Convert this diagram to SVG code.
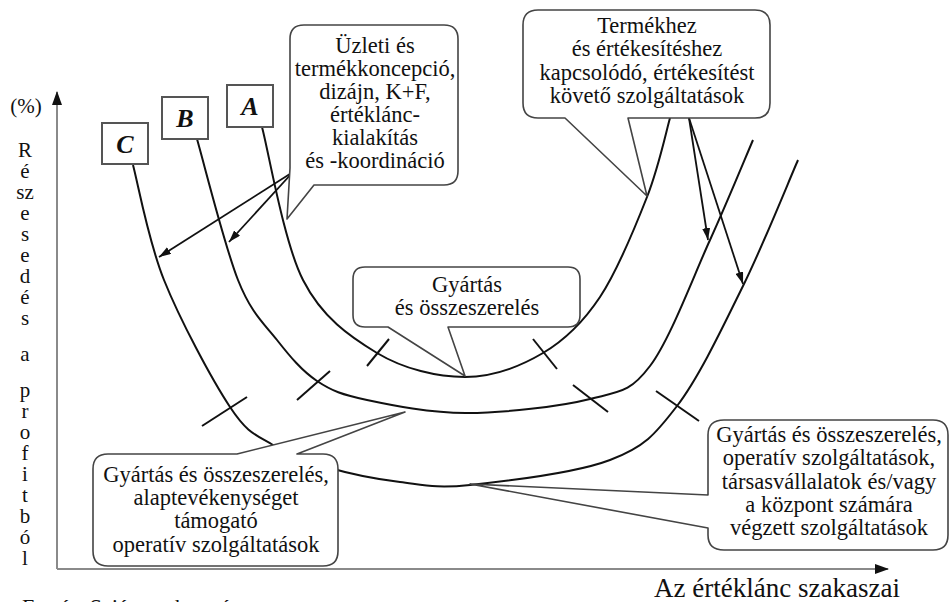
<svg xmlns="http://www.w3.org/2000/svg" width="950" height="602" viewBox="0 0 950 602">
<defs>
<style>
.t{font-family:"Liberation Serif","Times New Roman",serif;fill:#111;}
.co{font-size:22.5px;text-anchor:middle;}
.ya{font-size:21px;text-anchor:middle;}
.curve{fill:none;stroke:#111;stroke-width:2;}
.tick{fill:none;stroke:#111;stroke-width:2;}
.arr{fill:none;stroke:#111;stroke-width:1.8;marker-end:url(#ah);}
.axis{fill:none;stroke:#8a8a8a;stroke-width:2;marker-end:url(#axh);}
.call{fill:#fff;stroke:#444;stroke-width:1.6;stroke-linejoin:round;}
.lbox{fill:#fff;stroke:#555;stroke-width:2;}
.lbl{font-size:26px;font-weight:bold;font-style:italic;text-anchor:middle;}
</style>
<marker id="ah" viewBox="0 0 12 8" refX="12" refY="4" markerWidth="12" markerHeight="8" markerUnits="userSpaceOnUse" orient="auto"><path d="M0,0 L12,4 L0,8 z" fill="#111"/></marker>
<marker id="axh" viewBox="0 0 14 10" refX="13" refY="5" markerWidth="14" markerHeight="10" markerUnits="userSpaceOnUse" orient="auto"><path d="M0,0 L14,5 L0,10 z" fill="#111"/></marker>
</defs>
<rect width="950" height="602" fill="#fff"/>

<g id="axes">
<line class="axis" x1="57" y1="569" x2="57" y2="92"/>
<line class="axis" x1="57" y1="569" x2="888" y2="569"/>
<text class="t" x="26" y="113" font-size="21" text-anchor="middle">(%)</text>
<text class="t ya" x="25" y="157"><tspan x="25" y="157">R</tspan><tspan x="25" y="178">é</tspan><tspan x="25" y="199">sz</tspan><tspan x="25" y="220">e</tspan><tspan x="25" y="241">s</tspan><tspan x="25" y="262">e</tspan><tspan x="25" y="283">d</tspan><tspan x="25" y="304">é</tspan><tspan x="25" y="325">s</tspan><tspan x="25" y="361">a</tspan><tspan x="25" y="397">p</tspan><tspan x="25" y="418">r</tspan><tspan x="25" y="439">o</tspan><tspan x="25" y="460">f</tspan><tspan x="25" y="481">i</tspan><tspan x="25" y="502">t</tspan><tspan x="25" y="523">b</tspan><tspan x="25" y="544">ó</tspan><tspan x="25" y="565">l</tspan></text>
<text class="t" x="777" y="597" font-size="27" text-anchor="middle">Az értéklánc szakaszai</text>
<text class="t" x="22" y="614" font-size="22">Forrás: Saját szerkesztés</text>
</g>

<g id="connectors">
<path id="curveA" class="curve" d="M262,127 C268.8,152.5 283.8,242.3 303,280 C322.2,317.7 350,336.8 377,353 C404,369.2 437.3,377 465,377 C492.7,377 520.5,366.3 543,353 C565.5,339.7 582.7,323 600,297 C617.3,271 635.3,226.8 647,197 C658.7,167.2 666.2,131.2 670,118"/>
<path id="curveB" class="curve" d="M197,139 C203.8,162.5 224.7,246.5 238,280 C251.3,313.5 263.8,323.2 277,340 C290.2,356.8 302,371 317,381 C332,391 342,394.7 367,400 C392,405.3 429.8,413.2 467,413 C504.2,412.8 559.5,406.8 590,399 C620.5,391.2 630,392.5 650,366 C670,339.5 692.8,277.7 710,240 C727.2,202.3 745.8,156.7 753,140"/>
<path id="curveC" class="curve" d="M133,165 C138.2,184.2 147.8,239.7 164,280 C180.2,320.3 211.8,379.5 230,407 C248.2,434.5 256.3,434.8 273,445 C289.7,455.2 308.8,461.8 330,468 C351.2,474.2 376.7,479.2 400,482 C423.3,484.8 435,488.7 470,485 C505,481.3 575.5,473.2 610,460 C644.5,446.8 654.8,435 677,406 C699.2,377 722.8,327 743,286 C763.2,245 788.8,181 798,160"/>
<line class="tick" x1="367" y1="366" x2="389" y2="339"/>
<line class="tick" x1="533" y1="339" x2="557" y2="369"/>
<line class="tick" x1="297" y1="400" x2="330" y2="371"/>
<line class="tick" x1="573" y1="385" x2="608" y2="412"/>
<line class="tick" x1="202" y1="426" x2="247" y2="397"/>
<line class="tick" x1="656" y1="391" x2="699" y2="421"/>
<line class="arr" x1="293" y1="172" x2="159" y2="257"/>
<line class="arr" x1="293" y1="172" x2="229" y2="242"/>
<line class="arr" x1="689" y1="118" x2="708" y2="240"/>
<line class="arr" x1="689" y1="118" x2="743" y2="284"/>
</g>

<g id="labelC"><rect class="lbox" x="102" y="123" width="46" height="41"/><text class="t lbl" x="125" y="153">C</text></g>
<g id="labelB"><rect class="lbox" x="162" y="97" width="46" height="42"/><text class="t lbl" x="185" y="127">B</text></g>
<g id="labelA"><rect class="lbox" x="227" y="85" width="46" height="42"/><text class="t lbl" x="250" y="115">A</text></g>

<g id="callout-uzleti">
<path class="call" d="M304,25 H444 Q458,25 458,39 V171 Q458,185 444,185 H314 L287,219 L290,168 V39 Q290,25 304,25 Z"/>
<text class="t co" x="375" y="53">Üzleti és</text>
<text class="t co" x="375" y="76">termékkoncepció,</text>
<text class="t co" x="375" y="99">dizájn, K+F,</text>
<text class="t co" x="375" y="122">értéklánc-</text>
<text class="t co" x="375" y="145">kialakítás</text>
<text class="t co" x="375" y="168">és -koordináció</text>
</g>

<g id="callout-termekhez">
<path class="call" d="M538,10 H755 Q770,10 770,25 V103 Q770,118 755,118 H628 L647,196 L565,118 H538 Q523,118 523,103 V25 Q523,10 538,10 Z"/>
<text class="t co" x="647" y="33">Termékhez</text>
<text class="t co" x="647" y="56">és értékesítéshez</text>
<text class="t co" x="647" y="80">kapcsolódó, értékesítést</text>
<text class="t co" x="647" y="103">követő szolgáltatások</text>
</g>

<g id="callout-gyartas">
<path class="call" d="M365,267 H568 Q580,267 580,279 V315 Q580,327 568,327 H448 L465,376 L388,327 H365 Q353,327 353,315 V279 Q353,267 365,267 Z"/>
<text class="t co" x="467" y="292">Gyártás</text>
<text class="t co" x="467" y="315">és összeszerelés</text>
</g>

<g id="callout-alap">
<path class="call" d="M108,454 H237 L405,412 L297,454 H323 Q338,454 338,469 V551 Q338,566 323,566 H108 Q93,566 93,551 V469 Q93,454 108,454 Z"/>
<text class="t co" x="216" y="482">Gyártás és összeszerelés,</text>
<text class="t co" x="216" y="505">alaptevékenységet</text>
<text class="t co" x="216" y="528">támogató</text>
<text class="t co" x="216" y="552">operatív szolgáltatások</text>
</g>

<g id="callout-operativ">
<path class="call" d="M724,420 H933 Q948,420 948,435 V535 Q948,550 933,550 H724 Q708,550 708,535 V528 L470,484 L708,495 V435 Q708,420 724,420 Z"/>
<text class="t co" x="829" y="442">Gyártás és összeszerelés,</text>
<text class="t co" x="829" y="465">operatív szolgáltatások,</text>
<text class="t co" x="829" y="489">társasvállalatok és/vagy</text>
<text class="t co" x="829" y="512">a központ számára</text>
<text class="t co" x="829" y="535">végzett szolgáltatások</text>
</g>
</svg>
